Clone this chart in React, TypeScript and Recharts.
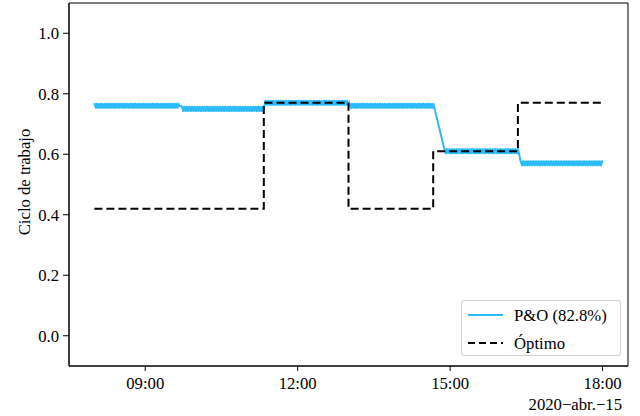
import React from "react";
import {
  LineChart,
  Line,
  XAxis,
  YAxis,
  Legend,
  ReferenceArea,
} from "recharts";

// P&O: tramos casi constantes con oscilación alrededor del nivel
const poStart = ["08:00", "09:43", "11:22", "13:01", "14:53", "16:23"];
const poEnd = ["09:40", "11:20", "13:00", "14:40", "16:20", "18:00"];
const poLevel = [0.76, 0.75, 0.77, 0.76, 0.61, 0.57];
const poRipple = [0.009, 0, -0.009];

// Óptimo: escalones
const optTime = ["08:00", "11:20", "13:00", "14:40", "16:20", "18:00"];
const optValue = [0.42, 0.77, 0.42, 0.61, 0.77, 0.77];

const xTicks = ["09:00", "12:00", "15:00", "18:00"];
const yTicks = [0, 0.2, 0.4, 0.6, 0.8, 1.0];

const FONT = '"Liberation Serif", "DejaVu Serif", serif';
const FS = 16.7;
const PO_COLOR = "#2BBBFB";

const toMin = (s: string) => {
  const [h, m] = s.split(":").map(Number);
  return h * 60 + m;
};
const fmt = (v: number) => {
  const h = Math.floor(v / 60);
  const m = v % 60;
  return `${String(h).padStart(2, "0")}:${String(m).padStart(2, "0")}`;
};

const poData: { t: number; v: number }[] = [];
poStart.forEach((s, i) => {
  const a = toMin(s);
  const b = toMin(poEnd[i]);
  for (let t = a; t <= b; t++) {
    poData.push({ t, v: poLevel[i] + poRipple[(t - a) % poRipple.length] });
  }
});

const optData = optTime.map((s, i) => ({ t: toMin(s), v: optValue[i] }));

const LegendBox = () => (
  <div
    style={{
      boxSizing: "border-box",
      width: 160,
      height: 56,
      border: "1px solid #d0d0d0",
      borderRadius: 3,
      background: "rgba(255,255,255,0.8)",
      position: "relative",
    }}
  >
    <svg width={160} height={56} style={{ position: "absolute", left: 0, top: 0 }}>
      <line x1={6} x2={41} y1={14} y2={14} stroke={PO_COLOR} strokeWidth={2} />
      <line x1={6} x2={41} y1={42} y2={42} stroke="#000" strokeWidth={2} strokeDasharray="7 4" />
      <text x={52} y={20} fontFamily={FONT} fontSize={FS}>P&amp;O (82.8%)</text>
      <text x={52} y={48} fontFamily={FONT} fontSize={FS}>Óptimo</text>
    </svg>
  </div>
);

const YLabel = () => (
  <text
    x={30}
    y={182}
    transform="rotate(-90, 30, 182)"
    textAnchor="middle"
    fontFamily={FONT}
    fontSize={FS}
    fill="#000"
  >
    Ciclo de trabajo
  </text>
);

const App = () => {
  const tickStyle = { fontFamily: FONT, fontSize: FS, fill: "#000" };
  return (
    <div style={{ position: "absolute", left: 0, top: 0, background: "#fff" }}>
      <LineChart
        width={640}
        height={416}
        margin={{ top: 3, right: 12, left: 0, bottom: 0 }}
      >
        <XAxis
          dataKey="t"
          type="number"
          domain={[450, 1110]}
          ticks={xTicks.map(toMin)}
          tickFormatter={fmt}
          allowDataOverflow
          height={50}
          tickSize={5}
          tickMargin={6}
          tick={tickStyle}
          stroke="#000"
          label={{
            value: "2020−abr.−15",
            position: "insideBottomRight",
            offset: 6,
            style: { fontFamily: FONT, fontSize: FS, fill: "#000" },
          }}
        />
        <YAxis
          type="number"
          domain={[-0.1, 1.1]}
          ticks={yTicks}
          tickFormatter={(v: number) => v.toFixed(1)}
          allowDataOverflow
          width={69}
          tickSize={6}
          tickMargin={4}
          tick={tickStyle}
          stroke="#000"
          label={<YLabel />}
        />
        <ReferenceArea
          x1={450}
          x2={1110}
          y1={-0.1}
          y2={1.1}
          fill="none"
          stroke="#000"
          strokeWidth={1}
          ifOverflow="visible"
        />
        <Line
          data={poData}
          dataKey="v"
          type="linear"
          stroke={PO_COLOR}
          strokeWidth={2}
          dot={false}
          isAnimationActive={false}
        />
        <Line
          data={optData}
          dataKey="v"
          type="stepAfter"
          stroke="#000"
          strokeWidth={2}
          strokeDasharray="8 4"
          dot={false}
          isAnimationActive={false}
        />
        <Legend
          layout="horizontal"
          verticalAlign="middle"
          align="center"
          wrapperStyle={{ left: 461, top: 300, width: 160, height: 56 }}
          content={<LegendBox />}
        />
      </LineChart>
    </div>
  );
};

export default App;
